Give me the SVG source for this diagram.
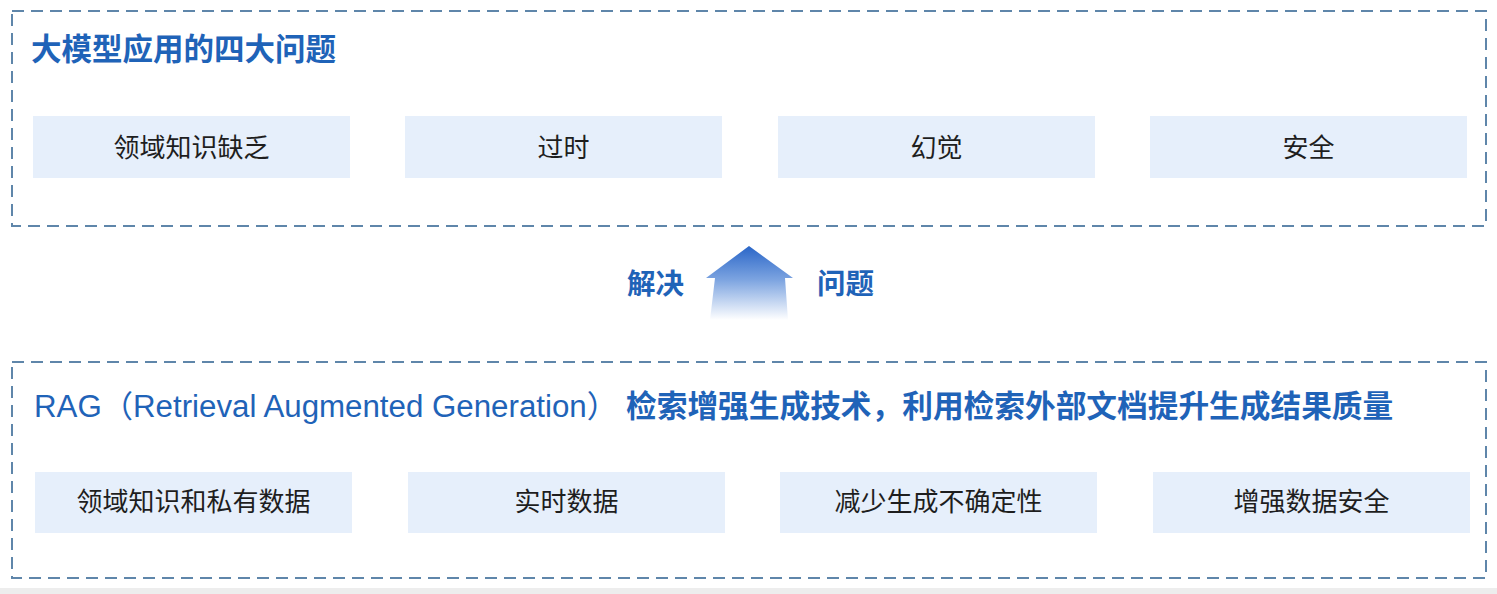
<svg xmlns="http://www.w3.org/2000/svg" width="1497" height="594" viewBox="0 0 1497 594">
<defs>
<style>
.frame{fill:none;stroke:#5f86aa;stroke-width:2;stroke-dasharray:12 7}
.node{fill:#e6effb}
.nt{font-family:"Noto Sans CJK SC","Noto Sans",sans-serif;font-size:26px;fill:#1e1e1e;text-anchor:middle;dominant-baseline:central}
.title{font-family:"Noto Sans CJK SC",sans-serif;font-size:30px;font-weight:bold;fill:#1f63b8}
.rag{font-family:"Liberation Sans","Noto Sans CJK SC",sans-serif;font-size:31px;fill:#1f63b8}
</style>
<linearGradient id="ag" x1="0" y1="0" x2="0" y2="1">
<stop offset="0" stop-color="#2a66c8"/>
<stop offset="0.45" stop-color="#7ba3e0"/>
<stop offset="1" stop-color="#ffffff"/>
</linearGradient>
</defs>
<rect width="1497" height="594" fill="#ffffff"/>
<rect x="0" y="588" width="1497" height="6" fill="#ededed"/>

<g id="top-frame">
<rect class="frame" x="12" y="11" width="1474" height="215"/>
<text class="title" x="31" y="60" style="font-size:30.5px">大模型应用的四大问题</text>
</g>
<g id="n1"><rect class="node" x="33" y="116" width="317" height="62"/><text class="nt" x="191.5" y="145">领域知识缺乏</text></g>
<g id="n2"><rect class="node" x="405" y="116" width="317" height="62"/><text class="nt" x="563.5" y="145">过时</text></g>
<g id="n3"><rect class="node" x="778" y="116" width="317" height="62"/><text class="nt" x="936.5" y="145">幻觉</text></g>
<g id="n4"><rect class="node" x="1150" y="116" width="317" height="62"/><text class="nt" x="1308.5" y="145">安全</text></g>

<g id="connectors">
<path d="M749 246 L793 278 L785 278 L788 320 L710 320 L715 278 L706 278 Z" fill="url(#ag)"/>
<text class="title" x="627" y="294" style="font-size:28.5px">解决</text>
<text class="title" x="817" y="294" style="font-size:28.5px">问题</text>
</g>

<g id="bottom-frame">
<rect class="frame" x="12" y="362" width="1474" height="216"/>
<text class="rag" x="34" y="417" textLength="584" lengthAdjust="spacingAndGlyphs">RAG（Retrieval Augmented Generation）</text>
<text class="title" x="626" y="417" style="font-size:30.7px">检索增强生成技术，利用检索外部文档提升生成结果质量</text>
</g>
<g id="m1"><rect class="node" x="35" y="472" width="317" height="61"/><text class="nt" x="193.5" y="499.5">领域知识和私有数据</text></g>
<g id="m2"><rect class="node" x="408" y="472" width="317" height="61"/><text class="nt" x="566.5" y="499.5">实时数据</text></g>
<g id="m3"><rect class="node" x="780" y="472" width="317" height="61"/><text class="nt" x="938.5" y="499.5">减少生成不确定性</text></g>
<g id="m4"><rect class="node" x="1153" y="472" width="317" height="61"/><text class="nt" x="1311.5" y="499.5">增强数据安全</text></g>
</svg>
